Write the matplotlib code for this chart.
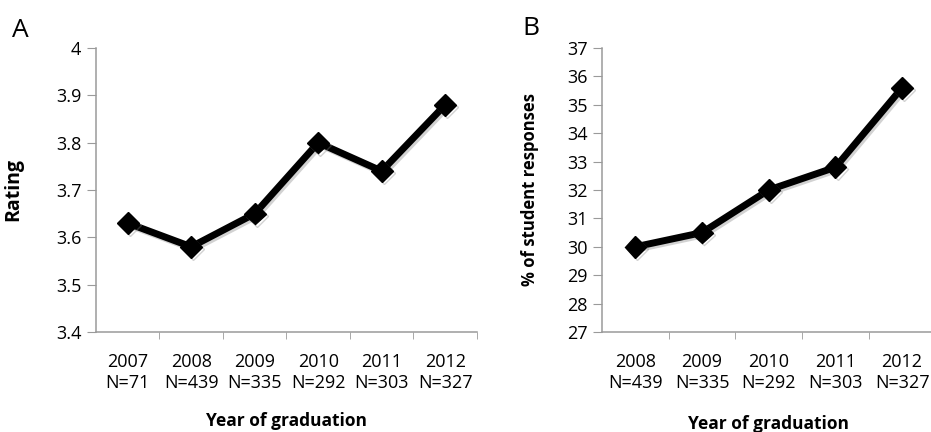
import matplotlib
matplotlib.use('Agg')
import matplotlib.pyplot as plt
import matplotlib.patheffects as pe

plt.rcParams['font.family'] = ['Open Sans', 'DejaVu Sans']

years_a = ['2007', '2008', '2009', '2010', '2011', '2012']
n_a = ['N=71', 'N=439', 'N=335', 'N=292', 'N=303', 'N=327']
rating = [3.63, 3.58, 3.65, 3.80, 3.74, 3.88]

years_b = ['2008', '2009', '2010', '2011', '2012']
n_b = ['N=439', 'N=335', 'N=292', 'N=303', 'N=327']
pct_responses = [30.0, 30.5, 32.0, 32.8, 35.6]

ticks_a = [3.4, 3.5, 3.6, 3.7, 3.8, 3.9, 4.0]
ticklabels_a = ['3.4', '3.5', '3.6', '3.7', '3.8', '3.9', '4']
ticks_b = list(range(27, 38))

axis_grey = '#9a9a9a'


def style_panel(ax, labels, counts, yticks, yticklabels, ylabel):
    n = len(labels)
    ax.set_xlim(-0.5, n - 0.5)
    ax.set_ylim(yticks[0], yticks[-1])
    for side in ['top', 'right']:
        ax.spines[side].set_visible(False)
    for side in ['left', 'bottom']:
        ax.spines[side].set_color(axis_grey)
        ax.spines[side].set_linewidth(1.1)
    ax.set_xticks(range(n))
    ax.set_xticklabels([y + '\n' + c for y, c in zip(labels, counts)],
                       fontsize=13, linespacing=1.25)
    ax.set_xticks([k + 0.5 for k in range(n)], minor=True)
    ax.tick_params(axis='x', which='major', length=0, pad=15)
    ax.tick_params(axis='x', which='minor', length=5, color=axis_grey, direction='out')
    ax.set_yticks(yticks)
    ax.set_yticklabels(yticklabels, fontsize=13)
    ax.tick_params(axis='y', length=6.5, color=axis_grey, direction='out', pad=4)
    ax.set_ylabel(ylabel, fontsize=12, fontweight='bold')
    ax.set_xlabel('Year of graduation', fontsize=12.5, fontweight='bold')


def draw_series(ax, values):
    ax.plot(range(len(values)), values, color='black', lw=5, marker='D',
            markersize=11, clip_on=False,
            path_effects=[pe.SimpleLineShadow(offset=(1.5, -1.5), shadow_color='grey', alpha=0.35),
                          pe.Normal()])


fig = plt.figure(figsize=(9.31, 4.32), dpi=100)

ax_a = fig.add_axes([0.1031, 0.2315, 0.4092, 0.6574])
draw_series(ax_a, rating)
style_panel(ax_a, years_a, n_a, ticks_a, ticklabels_a, 'Rating')
ax_a.yaxis.label.set_fontsize(14)
ax_a.yaxis.set_label_coords(-0.192, 0.5)
ax_a.xaxis.set_label_coords(0.5, -0.282)

ax_b = fig.add_axes([0.6466, 0.2315, 0.3582, 0.6574])
draw_series(ax_b, pct_responses)
style_panel(ax_b, years_b, n_b, ticks_b, [str(t) for t in ticks_b], '% of student responses')
ax_b.yaxis.set_label_coords(-0.189, 0.5)
ax_b.xaxis.set_label_coords(0.5, -0.292)

fig.text(0.013, 0.93, 'A', fontsize=19, va='center')
fig.text(0.561, 0.935, 'B', fontsize=19, va='center')

fig.savefig('out.png', dpi=100, facecolor='white')
